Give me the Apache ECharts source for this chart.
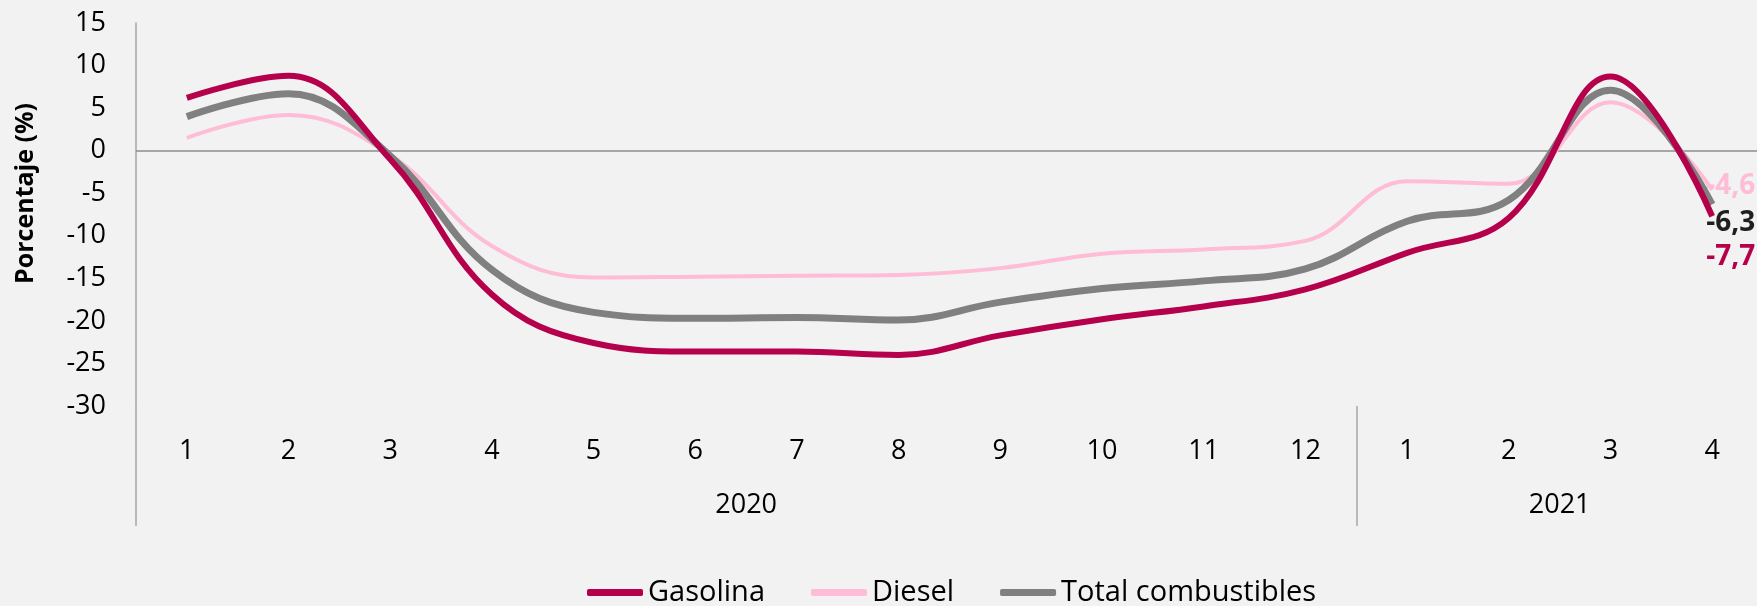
<!DOCTYPE html>
<html>
<head>
<meta charset="utf-8">
<script src="https://cdn.jsdelivr.net/npm/echarts@6/dist/echarts.min.js"></script>
<style>
  html, body { margin: 0; padding: 0; background: #f2f2f2; }
  #chart { width: 1757px; height: 606px; }
</style>
</head>
<body>
<div id="chart"></div>
<script>
// meses 2020 (1-12) y 2021 (1-4)
const months = ['1', '2', '3', '4', '5', '6', '7', '8', '9', '10', '11', '12', '1', '2', '3', '4'];
const years = ['2020', '2021'];
const yearCenters = [6, 14];      // centro de cada bloque de años, en unidades de categoría

const gasolina = [6.2, 8.8, -1.0, -16.9, -22.6, -23.6, -23.6, -24.0, -21.7, -19.8, -18.3, -16.3, -12.0, -7.9, 8.7, -7.7];
const diesel   = [1.5, 4.2, -0.5, -11.2, -14.9, -14.8, -14.7, -14.6, -13.8, -12.1, -11.6, -10.6, -3.6, -3.9, 5.7, -4.6];
const total    = [4.0, 6.7, -0.6, -14.0, -19.0, -19.7, -19.6, -19.9, -17.8, -16.2, -15.3, -13.9, -8.3, -5.8, 7.1, -6.3];

const FONT = '"Open Sans", "Noto Sans", sans-serif';

let chartDom = document.getElementById('chart');
let myChart = echarts.init(chartDom, null, { renderer: 'canvas' });

const fmt = v => String(v).replace('.', ',');

let option = {
  backgroundColor: '#f2f2f2',
  animation: false,
  textStyle: { fontFamily: FONT },
  grid: { left: 136, top: 23, bottom: 200, width: 1627, containLabel: false, outerBoundsMode: 'none' },
  legend: {
    left: 587,
    top: 578,
    padding: 0,
    itemGap: 46,
    itemWidth: 56,
    itemHeight: 7,
    icon: 'roundRect',
    textStyle: { fontFamily: FONT, fontSize: 29, color: '#000' },
    data: ['Gasolina', 'Diesel', 'Total combustibles']
  },
  xAxis: [
    {
      type: 'category',
      data: months,
      position: 'bottom',
      boundaryGap: true,
      axisLine: { show: false, onZero: false },
      axisTick: {
        show: true,
        inside: false,
        length: 120,
        interval: (i) => i === 0 || i === 12,
        lineStyle: { color: '#a6a6a6', width: 1.5 }
      },
      axisLabel: { margin: 32, fontSize: 27, color: '#000', fontFamily: FONT, interval: 0 },
      splitLine: { show: false }
    },
    {
      type: 'value',
      min: 0,
      max: 16,
      position: 'bottom',
      axisLine: { show: false, onZero: false },
      axisTick: { show: false },
      splitLine: { show: false },
      axisLabel: {
        margin: 86,
        fontSize: 27,
        color: '#000',
        fontFamily: FONT,
        customValues: yearCenters,
        formatter: v => years[yearCenters.indexOf(v)] || ''
      }
    }
  ],
  yAxis: {
    type: 'value',
    min: -30,
    max: 15,
    interval: 5,
    name: 'Porcentaje (%)',
    nameLocation: 'middle',
    nameGap: 98,
    nameTextStyle: { fontSize: 25, fontWeight: 'bold', color: '#000', fontFamily: FONT, padding: [0, 0, 0, 42] },
    axisLine: { show: true, onZero: false, lineStyle: { color: '#a6a6a6', width: 1.5 } },
    axisTick: { show: false },
    splitLine: { show: false },
    axisLabel: { margin: 30, fontSize: 27, color: '#000', fontFamily: FONT }
  },
  series: [
    {
      name: 'Gasolina',
      type: 'line',
      data: gasolina,
      smooth: 0.4,
      symbol: 'none',
      color: '#b5004b',
      lineStyle: { width: 6, color: '#b5004b' },
      z: 4,
      markLine: {
        silent: true,
        symbol: 'none',
        label: { show: false },
        lineStyle: { color: '#8c8c8c', width: 1.5, type: 'solid' },
        data: [{ yAxis: 0 }],
        z: 1
      },
      endLabel: {
        show: true,
        formatter: p => fmt(p.value),
        offset: [-14, 41],
        fontSize: 28,
        fontWeight: 'bold',
        color: '#b5004b',
        fontFamily: FONT
      }
    },
    {
      name: 'Diesel',
      type: 'line',
      data: diesel,
      smooth: 0.4,
      symbol: 'none',
      color: '#ffbcd6',
      lineStyle: { width: 4, color: '#ffbcd6' },
      z: 2,
      endLabel: {
        show: true,
        formatter: p => fmt(p.value),
        offset: [-14, -4],
        fontSize: 28,
        fontWeight: 'bold',
        color: '#ffbcd6',
        fontFamily: FONT
      }
    },
    {
      name: 'Total combustibles',
      type: 'line',
      data: total,
      smooth: 0.4,
      symbol: 'none',
      color: '#808080',
      lineStyle: { width: 7, color: '#808080' },
      z: 3,
      endLabel: {
        show: true,
        formatter: p => fmt(p.value),
        offset: [-14, 19],
        fontSize: 28,
        fontWeight: 'bold',
        color: '#1f1f1f',
        fontFamily: FONT
      }
    }
  ]
};

option && myChart.setOption(option);
</script>
</body>
</html>
